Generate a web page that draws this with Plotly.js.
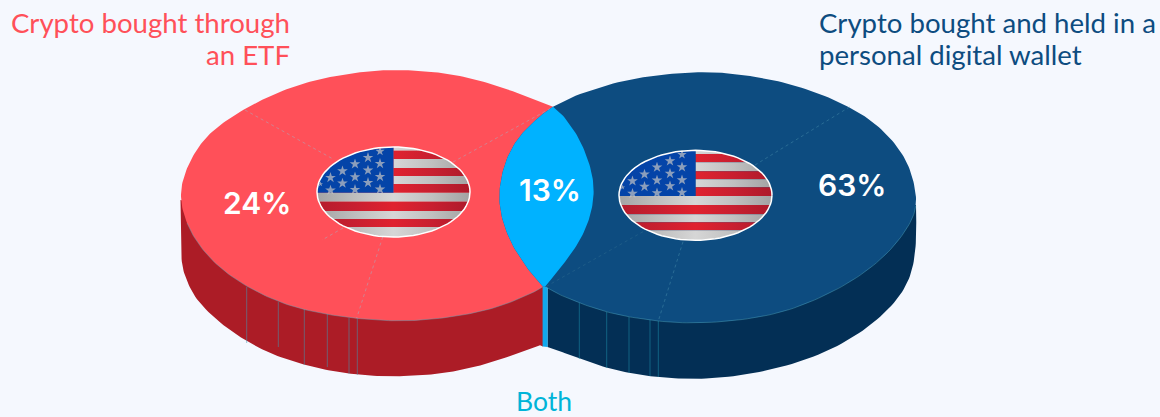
<!DOCTYPE html>
<html><head><meta charset="utf-8">
<script src="https://cdn.plot.ly/plotly-3.0.1.min.js"></script>
<style>html,body{margin:0;padding:0;background:#f5f8fe}#c{width:1160px;height:417px}</style>
</head><body><div id="c"></div>
<script>
// ---- chart values ----
const segmentNames = ['Crypto bought through an ETF', 'Both', 'Crypto bought and held in a personal digital wallet'];
const segmentValues = [24, 13, 63];
const titleEtf = ['Crypto bought through', 'an ETF'];
const titleWallet = ['Crypto bought and held in a', 'personal digital wallet'];
const titleBoth = 'Both';

// ---- colours ----
const RED='#ff5059', RED_DK='#ac1c26', BLUE='#0d4c80', BLUE_DK='#032f55', LENS='#00b2ff', BOTH='#00b4d8';

// ---- outline of the 3-D venn artwork, in the picture's own axis units ----
const leftOuter=[[553,106.7],[510,89.6],[477,79.6],[443,72.3],[403,69.6],[370,70.6],[337,75.6],[303,82.6],[270,95.6],[243,109.6],[220,124.6],[203,139.6],[190.2,160],[182,181],[180,200],[186,223],[199.5,247],[220,268.5],[246.7,287],[278,302],[303,309.4],[326.7,314.4],[356.7,318.7],[390,321],[416.7,320.7],[450,317.4],[483,311.4],[516.7,301],[543,286.7]];
const rightOuter=[[553,106.7],[593,87.6],[643,76.3],[693,71.9],[727,72.3],[773,79.6],[807,88.6],[850,106.3],[880,126.3],[900.5,150],[912.5,173],[916.7,200],[915,212],[903.5,237],[873.5,267],[840,288.4],[796.7,308.4],[756.7,318.4],[696.7,324.4],[658.3,321],[628,317],[606.7,312],[580,303.6],[553.3,292],[546,286.7]];
const lensRight=[[553,106.7],[570.5,123],[583.5,146.7],[592.5,173],[594.3,193],[590.8,217],[580.5,240],[567,260],[545,286.7]];
const lensLeft=[[553,106.7],[532.5,121.7],[516,140],[504,163],[499,190],[499.7,213],[509.3,240],[522.5,263],[543,286.7]];
const leftFloor=[[180.5,200],[181,253],[182,266.7],[190,290],[206.7,313],[246.7,342.7],[278,356.7],[305,365],[326.7,370],[356.7,375],[390,376.7],[433,375],[466.7,369.3],[500,360],[540,345.3]];
const rightFloor=[[547.5,347],[560,351],[580,359],[606.7,368],[628,373],[660,377.7],[696.7,379.3],[740,376.7],[800,363],[846.7,343],[886.7,313],[906.7,286.7],[915.5,260],[916.3,226.7],[916,205]];
const leftCreases=[[[245,110],[333,159]],[[453,162],[553,107]],[[382.7,237],[356.7,318]],[[343,228],[322,240]]];
const rightCreases=[[[755,165],[850,106.7]],[[683,241.7],[658.3,321]],[[643,231.7],[547,286]]];
const leftPosts=[[246.7,287,343],[278.3,302,347],[304.3,309,365],[327.3,314,367],[349,318,374],[357.3,318,375]];
const rightPosts=[[579.3,303,359],[606.7,312,368],[629,317,373],[650,320,376],[658.3,321,377]];

// ---- flag artwork: offsets from each badge's centre ----
const flagCentres=[[393.5,192],[695.5,195.3]];
const flagRx=76.5, flagRy=45, cantonDx=0;
const stripeEdges=[-45,-41.3,-33,-24,-16,-8,0.7,9.7,19,27,35,45];
const stripeIsRed=[false,true,false,true,false,true,false,true,false,true,false];
const starOffsets=[[-13.5,-40.7],[-25.5,-34.3],[-38.5,-28],[-13.5,-28.3],[-51,-21],[-25.5,-21.7],[-63,-14.3],[-38.5,-15],[-13.5,-15.3],[-73,-8],[-51,-8.7],[-25.5,-9.3],[-63,-1.7],[-38.5,-2.3],[-13.5,-2.7]];
const starSizes=[7,8,8,8,8,8,8,8,8,4,8,8,8,8,8];

function smooth(p,n=10){
  const o=[];
  for(let i=0;i<p.length-1;i++){
    const a=p[Math.max(i-1,0)],b=p[i],c=p[i+1],d=p[Math.min(i+2,p.length-1)];
    for(let k=0;k<n;k++){
      const t=k/n,t2=t*t,t3=t2*t;
      const f=j=>0.5*(2*b[j]+(c[j]-a[j])*t+(2*a[j]-5*b[j]+4*c[j]-d[j])*t2+(3*b[j]-a[j]-3*c[j]+d[j])*t3);
      o.push([f(0),f(1)]);
    }
  }
  o.push(p[p.length-1]);
  // moving average irons out reading noise; the window shrinks at the ends so they stay put
  const w=Math.round(n*0.9);
  return o.map((q,i)=>{
    const h=Math.min(w,i,o.length-1-i);
    let sx=0,sy=0;
    for(let j=i-h;j<=i+h;j++){sx+=o[j][0];sy+=o[j][1];}
    return [sx/(2*h+1),sy/(2*h+1)];
  });
}
const poly=(pts,color,extra={})=>Object.assign({type:'scatter',mode:'lines',x:pts.map(q=>q[0]),y:pts.map(q=>q[1]),
  fill:'toself',fillcolor:color,line:{width:0,color:color},hoverinfo:'skip'},extra);
const stroke=(pts,color,width,dash)=>({type:'scatter',mode:'lines',x:pts.map(q=>q[0]),y:pts.map(q=>q[1]),
  line:{color:color,width:width,dash:dash||'solid'},hoverinfo:'skip'});

const traces=[];
// side walls
traces.push(poly(smooth(leftFloor).concat([[543,346.5],[543,280]]),RED_DK));
traces.push(poly(smooth(rightFloor).concat([[547.5,280]]),BLUE_DK));
traces.push(poly([[542.6,286],[547.6,286],[547.6,347],[542.6,346.5]],'#12a8ec'));
leftPosts.forEach(p=>traces.push(stroke([[p[0],p[1]],[p[0],p[2]]],'rgba(70,150,175,0.55)',1)));
rightPosts.forEach(p=>traces.push(stroke([[p[0],p[1]],[p[0],p[2]]],'rgba(30,140,170,0.55)',1)));
// top faces
traces.push(poly(smooth(leftOuter).concat(smooth(lensRight).reverse()),RED));
traces.push(poly(smooth(rightOuter).concat(smooth(lensLeft).reverse()),BLUE));
traces.push(stroke(smooth(leftOuter).slice(150),'rgba(90,170,190,0.45)',1));
traces.push(stroke(smooth(rightOuter).slice(115),'rgba(90,180,200,0.4)',1));
leftCreases.forEach(c=>traces.push(stroke(c,'rgba(190,150,165,0.7)',1,'dot')));
rightCreases.forEach((c,i)=>traces.push(stroke(c,i==2?'rgba(60,120,150,0.35)':'rgba(70,140,170,0.5)',1,'dot')));
// overlap
traces.push(poly(smooth(lensRight).concat(smooth(lensLeft).reverse()),LENS));

// flags
function chord(cx,cy,y0,y1,xMin,xMax){
  const top=[],bot=[];
  const N=14;
  for(let i=0;i<=N;i++){
    const dy=y0+(y1-y0)*i/N;
    const w=flagRx*Math.sqrt(Math.max(0,1-(dy*dy)/(flagRy*flagRy)));
    const l=Math.max(-w,xMin), r=Math.min(w,xMax);
    top.push([cx+r,cy+dy]); bot.push([cx+l,cy+dy]);
  }
  return top.concat(bot.reverse());
}
const hGrad=(cx,cols)=>({type:'horizontal',start:cx-flagRx,stop:cx+flagRx,
  colorscale:cols.map((c,i)=>[i/(cols.length-1),c])});
flagCentres.forEach(([cx,cy])=>{
  stripeEdges.slice(0,-1).forEach((e,i)=>{
    const xMin = e<0 ? cantonDx : -flagRx;
    const cols = stripeIsRed[i] ? ['#b51c2c','#c81f30','#e0222f','#c81f30','#ad1a2a'] : ['#a4a4a4','#bebebe','#d6d6d6','#c0c0c0','#a2a2a2'];
    traces.push(poly(chord(cx,cy,e,stripeEdges[i+1],xMin,flagRx),'#ccc',{fillgradient:hGrad(cx,cols)}));
  });
  traces.push(poly(chord(cx,cy,-45,0.7,-flagRx,cantonDx),'#0444a8'));
  traces.push({type:'scatter',mode:'markers',x:starOffsets.map(s=>cx+s[0]),y:starOffsets.map(s=>cy+s[1]),
    marker:{symbol:'star',size:starSizes,color:'#c4c4c4',line:{width:0}},hoverinfo:'skip'});
  const ring=[];
  for(let i=0;i<=96;i++){const a=i/96*2*Math.PI;ring.push([cx+flagRx*Math.cos(a),cy+flagRy*Math.sin(a)]);}
  traces.push(stroke(ring,'#ffffff',1.5));
});

const txt=(text,x,y,size,color,anchor,family,weight)=>({text:text,x:x,y:y,xref:'x',yref:'y',showarrow:false,
  xanchor:anchor,yanchor:'middle',align:anchor==='middle'?'center':anchor,borderpad:0,
  font:{family:family,size:size,color:color,weight:weight||400}});
const SERIF='Lato, sans-serif', NUM='Inter, sans-serif';
const annotations=[
  txt(titleEtf[0],291,22.5,27.6,RED,'right',SERIF),
  txt(titleEtf[1],291,54,27.6,RED,'right',SERIF),
  txt(titleWallet[0],818,22.5,27.6,BLUE,'left',SERIF),
  txt(titleWallet[1],818,54,27.6,BLUE,'left',SERIF),
  txt(titleBoth,544,400.5,26.5,BOTH,'middle',SERIF),
  txt(segmentValues[0]+'%',256.5,203,30,'#ffffff','middle',NUM,600),
  txt(segmentValues[1]+'%',550,190,30,'#ffffff','middle',NUM,600),
  txt(segmentValues[2]+'%',851.5,185,30,'#ffffff','middle',NUM,600)
];
const layout={width:1160,height:417,margin:{l:0,r:0,t:0,b:0},paper_bgcolor:'#f5f8fe',plot_bgcolor:'#f5f8fe',showlegend:false,
  xaxis:{range:[0,1160],visible:false,fixedrange:true},
  yaxis:{range:[417,0],visible:false,fixedrange:true},
  annotations:annotations,hovermode:false};
Plotly.newPlot('c',traces,layout,{displayModeBar:false,staticPlot:true});
</script></body></html>
